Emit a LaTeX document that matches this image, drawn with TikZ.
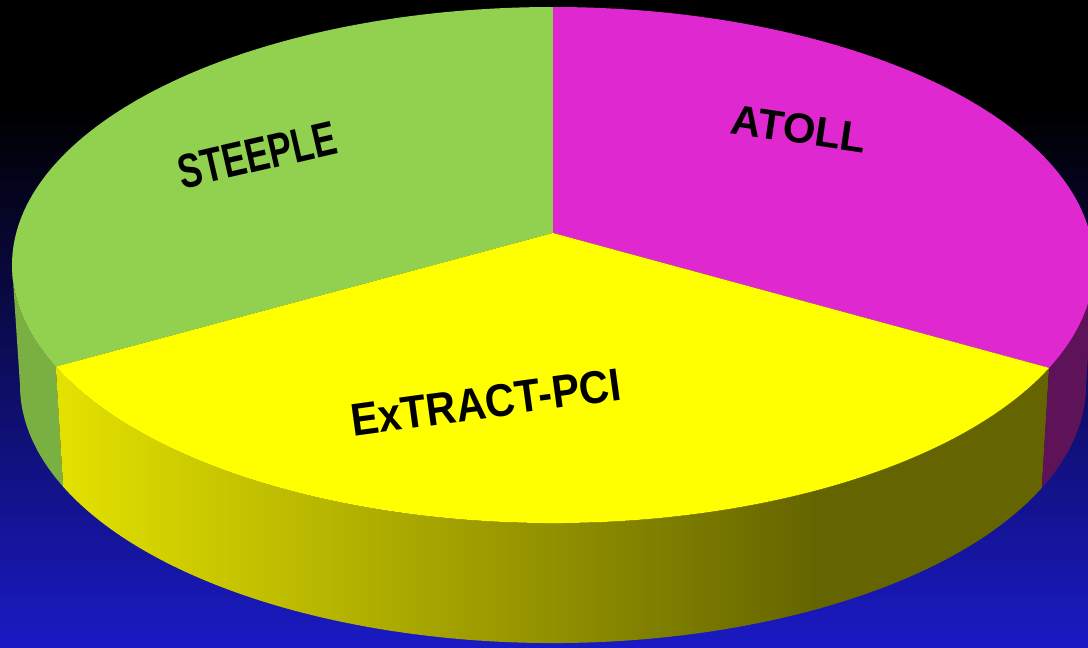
\documentclass[tikz,border=0pt]{standalone}
\usepackage{fontspec}
\setmainfont{Liberation Sans}
\newfontfamily\narrowsans[FakeStretch=0.74]{Liberation Sans}
\newfontfamily\midsans[FakeStretch=0.9]{Liberation Sans}
\usepackage{xcolor}
\usepackage{tikz}
\usetikzlibrary{calc,positioning}

\definecolor{bgblue}{RGB}{26,26,196}
\definecolor{greentop}{RGB}{146,208,80}
\definecolor{greenside}{RGB}{122,176,66}
\definecolor{magtop}{RGB}{224,40,208}
\definecolor{magside}{RGB}{94,18,88}
\definecolor{yellowtop}{RGB}{255,255,0}
\definecolor{yellowlight}{RGB}{228,226,0}
\definecolor{yellowdark}{RGB}{100,100,0}

\begin{document}
\begin{tikzpicture}[x=1pt, y=1pt,
    slicelabel/.style={anchor=base, inner sep=0pt}]
    \clip (0,0) rectangle (1088,-648);
    % background
    \fill[black] (0,0) rectangle (1088,-110);
    \shade[top color=black, bottom color=bgblue] (0,-110) rectangle (1088,-648);

    \coordinate (tc) at (553,-265);
    \coordinate (bc) at (553,-385);
    \coordinate (pc) at (553,-233);

    % sides
    \fill[greenside] ($(tc)+(180:541 and 258)$) arc[start angle=180, end angle=203.2, x radius=541, y radius=258]
        -- ($(bc)+(203.2:533 and 258)$) arc[start angle=203.2, end angle=180, x radius=533, y radius=258] -- cycle;
    \begin{scope}
        \clip ($(tc)+(203.2:541 and 258)$) arc[start angle=203.2, end angle=336.5, x radius=541, y radius=258]
            -- ($(bc)+(336.5:533 and 258)$) arc[start angle=336.5, end angle=203.2, x radius=533, y radius=258] -- cycle;
        \shade[left color=yellowlight, right color=yellowdark] (55,-300) rectangle (820,-648);
        \fill[yellowdark] (819,-300) rectangle (1088,-648);
    \end{scope}
    \fill[magside] ($(tc)+(336.5:541 and 258)$) arc[start angle=336.5, end angle=360, x radius=541, y radius=258]
        -- ($(bc)+(0:533 and 258)$) arc[start angle=360, end angle=336.5, x radius=533, y radius=258] -- cycle;

    % top
    \fill[greentop] (pc) -- ($(tc)+(90:541 and 258)$) arc[start angle=90, end angle=203.2, x radius=541, y radius=258] -- cycle;
    \fill[magtop] (pc) -- ($(tc)+(-23.5:541 and 258)$) arc[start angle=-23.5, end angle=90, x radius=541, y radius=258] -- cycle;
    \fill[yellowtop] (pc) -- ($(tc)+(203.2:541 and 258)$) arc[start angle=203.2, end angle=336.5, x radius=541, y radius=258] -- cycle;

    % labels
    \node[slicelabel, rotate=13, font=\narrowsans\bfseries\fontsize{48}{52}\selectfont] (steeple) at (261,-171) {STEEPLE};
    \node[slicelabel, rotate=-8.4, font=\bfseries\fontsize{42}{46}\selectfont] (atoll) at (797,-143) {ATOLL};
    \node[slicelabel, rotate=7.8, font=\midsans\bfseries\fontsize{46}{50}\selectfont] (extract) at (488,-418) {ExTRACT-PCI};
\end{tikzpicture}
\end{document}
